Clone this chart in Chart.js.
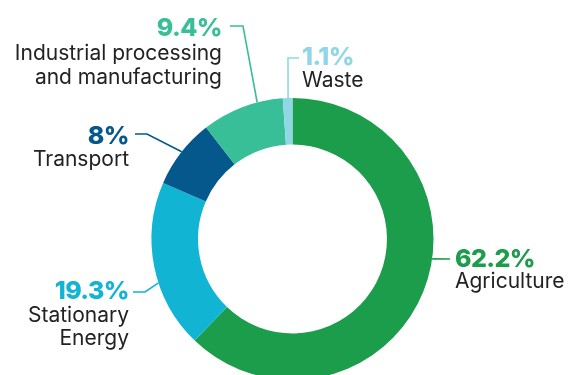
<!DOCTYPE html>
<html><head><meta charset="utf-8">
<script src="https://cdn.jsdelivr.net/npm/chart.js@4"></script>
<style>
html,body{margin:0;padding:0;overflow:hidden;background:#fff;width:570px;height:375px}
#wrap{position:absolute;left:0;top:0;width:570px;height:500px}
</style>
</head><body><div id="wrap"><canvas id="c" width="570" height="500"></canvas></div>
<script>
const categories = ['Agriculture', 'Stationary Energy', 'Transport', 'Industrial processing and manufacturing', 'Waste'];
const labelLines = [['Agriculture'], ['Stationary', 'Energy'], ['Transport'], ['Industrial processing', 'and manufacturing'], ['Waste']];
const shares = [62.2, 19.3, 8, 9.4, 1.1];
const colors = ['#1b9d4b', '#12b4d3', '#04588c', '#38bf98', '#91d6e6'];

// callout layout (annotation placement only)
const callouts = [
  {ang: 8.1,    pts: [[450, 259]],            x: 455, align: 'left',  pctY: 267, lineYs: [288]},
  {ang: 161.9,  pts: [[145, 292], [133, 292]], x: 129, align: 'right', pctY: 299, lineYs: [322, 345]},
  {ang: -141.8, pts: [[147, 134], [135, 134]], x: 129, align: 'right', pctY: 144, lineYs: [166]},
  {ang: -104.5, pts: [[243, 26], [230, 26]],   x: 222, align: 'right', pctY: 36,  lineYs: [60, 84]},
  {ang: -91.8,  pts: [[288, 58], [299, 58]],   x: 302, align: 'left',  pctY: 65,  lineYs: [87]}
];

const calloutPlugin = {
  id: 'callouts',
  afterDraw(chart) {
    const ctx = chart.ctx;
    const arc = chart.getDatasetMeta(0).data[0];
    const cx = arc.x, cy = arc.y, r = arc.outerRadius;
    callouts.forEach((c, i) => {
      const a = c.ang * Math.PI / 180;
      const ax = cx + r * Math.cos(a), ay = cy + r * Math.sin(a);
      ctx.save();
      ctx.strokeStyle = colors[i];
      ctx.lineWidth = 1.6;
      ctx.beginPath();
      ctx.moveTo(ax, ay);
      c.pts.forEach(p => ctx.lineTo(p[0], p[1]));
      ctx.stroke();
      ctx.textAlign = c.align;
      ctx.textBaseline = 'alphabetic';
      ctx.fillStyle = colors[i];
      ctx.font = '800 25px Inter';
      ctx.letterSpacing = '-0.6px';
      ctx.fillText(shares[i] + '%', c.x, c.pctY);
      ctx.fillStyle = '#222222';
      ctx.font = '400 21px Inter';
      ctx.letterSpacing = '0px';
      labelLines[i].forEach((t, k) => ctx.fillText(t, c.x, c.lineYs[k]));
      ctx.restore();
    });
  }
};

new Chart(document.getElementById('c'), {
  type: 'doughnut',
  data: {
    labels: categories,
    datasets: [{
      data: shares,
      backgroundColor: colors,
      borderWidth: 0,
      hoverOffset: 0
    }]
  },
  options: {
    responsive: false,
    devicePixelRatio: 1,
    animation: false,
    cutout: '67%',
    layout: {padding: {left: 151.5, right: 136.5, top: 98, bottom: 120}},
    plugins: {legend: {display: false}, tooltip: {enabled: false}}
  },
  plugins: [calloutPlugin]
});
</script>
</body></html>
